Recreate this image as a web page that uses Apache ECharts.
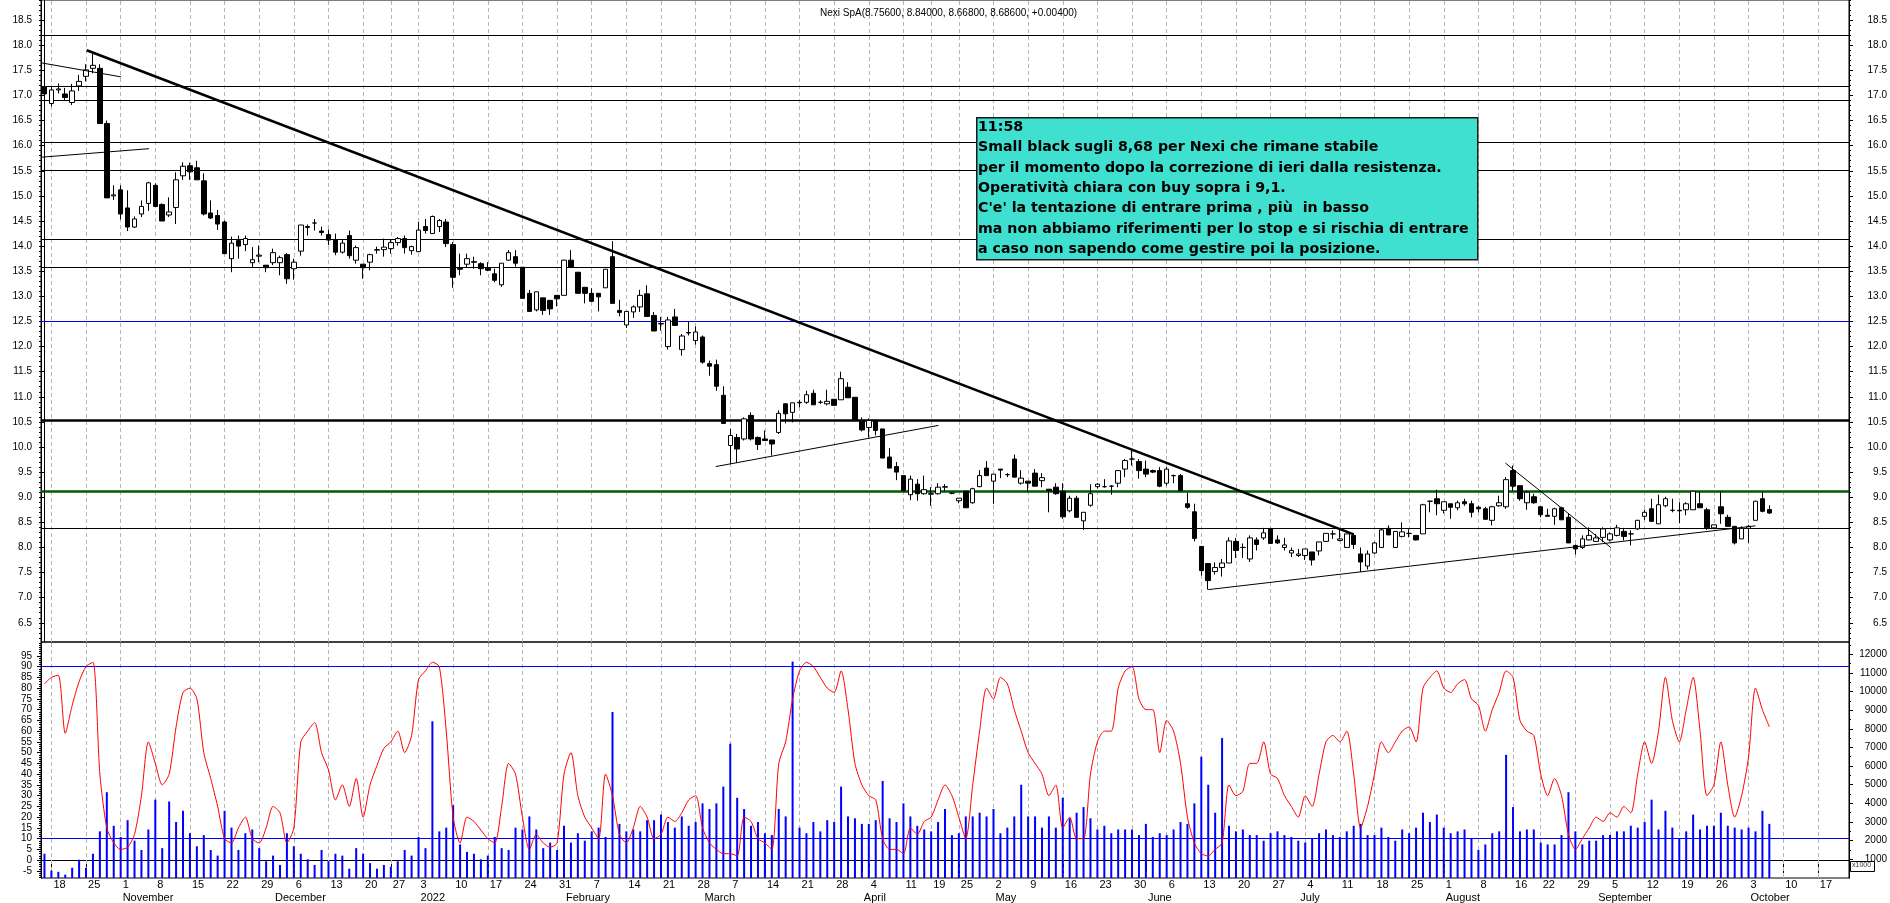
<!DOCTYPE html>
<html><head><meta charset="utf-8">
<script src="https://cdn.jsdelivr.net/npm/echarts@6/dist/echarts.min.js"></script>
<style>html,body{margin:0;padding:0;background:#fff;}#c{width:1890px;height:903px;}</style>
</head><body><div id="c"></div>
<script>
// ---------- calendar ----------
const holidays = ['2021-12-24','2021-12-31','2022-04-15','2022-04-18','2022-08-15'];
const firstDay = '2021-10-15';
const lastDay = '2022-10-21';
const monthNames = ['2022','February','March','April','May','June','July','August','September','October','November','December'];

// ---------- price data (one entry per trading day from 2021-10-15) ----------
const open = [17.17,16.84,17.11,17.03,16.86,17.19,17.38,17.54,17.54,16.44,
15.00,15.12,14.76,14.38,14.64,14.85,15.21,14.83,14.62,14.77,
15.40,15.60,15.56,15.30,14.66,14.61,14.48,13.75,14.11,14.03,
13.67,13.80,13.62,13.67,13.67,13.83,13.55,13.90,14.37,14.46,
14.30,14.23,14.12,13.88,14.21,13.72,13.64,13.68,13.92,13.93,
13.95,14.07,14.15,13.91,13.89,14.39,14.25,14.39,14.48,14.03,
13.56,13.64,13.69,13.65,13.56,13.45,13.23,13.72,13.79,13.58,
13.06,12.73,12.97,12.92,13.02,13.02,13.72,13.48,13.18,13.06,
13.06,13.17,13.79,12.72,12.43,12.69,12.79,13.05,12.62,12.46,
12.00,12.59,11.94,12.27,12.12,12.19,11.66,11.64,11.03,10.03,
10.19,10.16,10.63,10.19,10.16,10.14,10.29,10.86,10.69,10.88,
10.89,11.07,10.89,10.86,10.95,10.94,11.19,10.99,10.53,10.39,
10.53,10.36,9.80,9.61,9.43,9.05,9.26,9.07,9.06,9.07,
9.20,9.08,8.93,9.12,8.89,9.21,9.58,9.32,9.56,9.45,
9.76,9.28,9.32,9.48,9.33,9.16,9.20,9.12,8.73,8.98,
8.53,8.84,9.21,9.21,9.22,9.28,9.56,9.76,9.71,9.56,
9.53,9.53,9.28,9.43,9.43,8.87,8.71,8.02,7.68,7.52,
7.60,7.69,8.12,8.00,7.77,8.15,8.19,8.37,8.15,8.00,
7.89,7.84,7.84,7.91,7.93,8.12,8.27,8.14,8.00,8.24,
7.87,7.63,7.89,8.00,8.38,8.00,8.22,8.28,8.24,8.27,
8.92,8.97,8.74,8.87,8.79,8.91,8.87,8.80,8.77,8.54,
8.83,8.81,9.53,9.23,8.89,9.01,8.81,8.64,8.62,8.79,
8.60,8.04,8.00,8.15,8.12,8.20,8.15,8.24,8.32,8.27,
8.37,8.62,8.77,8.47,8.83,8.74,8.74,8.75,8.75,8.87,
8.75,8.39,8.81,8.60,8.42,8.17,8.38,8.54,8.97,8.756];
const high = [17.22,17.17,17.24,17.15,17.23,17.41,17.62,17.83,17.62,16.50,
15.21,15.21,15.11,14.59,14.91,15.28,15.25,14.85,14.97,15.47,
15.67,15.66,15.70,15.45,14.91,14.72,14.51,14.19,14.21,14.21,
13.98,14.01,13.62,13.95,13.81,13.86,13.75,14.42,14.43,14.54,
14.39,14.33,14.25,14.14,14.31,14.01,13.64,13.85,13.99,14.15,
14.13,14.18,14.21,14.01,14.48,14.54,14.61,14.54,14.54,14.08,
13.85,13.85,13.79,13.68,13.68,13.55,13.66,13.92,13.92,13.58,
13.13,13.09,12.97,12.92,13.02,13.73,13.92,13.48,13.18,13.16,
13.06,13.54,14.10,12.93,12.70,12.82,13.13,13.22,12.69,12.59,
12.59,12.75,12.25,12.50,12.40,12.22,11.72,11.74,11.21,10.36,
10.26,10.59,10.69,10.21,10.33,10.14,10.73,10.87,10.88,10.94,
11.12,11.14,10.93,11.14,10.95,11.50,11.29,10.99,10.59,10.57,
10.53,10.36,9.98,9.70,9.43,9.43,9.36,9.43,9.20,9.28,
9.26,9.10,8.98,9.12,9.19,9.54,9.72,9.46,9.56,9.48,
9.85,9.54,9.32,9.56,9.48,9.16,9.28,9.28,9.03,9.03,
8.70,9.26,9.28,9.36,9.24,9.54,9.76,9.96,9.76,9.73,
9.55,9.60,9.60,9.45,9.46,9.09,8.87,8.02,7.68,7.70,
7.77,8.20,8.19,8.08,8.24,8.20,8.39,8.39,8.24,8.19,
8.00,7.97,7.97,7.91,8.11,8.28,8.34,8.35,8.27,8.28,
8.00,7.94,8.11,8.37,8.44,8.32,8.50,8.36,8.24,8.87,
8.93,9.15,8.91,8.87,8.93,8.97,8.93,8.83,8.81,8.83,
9.03,9.40,9.63,9.23,9.13,9.07,8.81,8.77,8.79,8.81,
8.68,8.06,8.24,8.40,8.27,8.40,8.30,8.45,8.39,8.34,
8.55,8.75,8.97,9.05,9.01,8.97,8.90,8.90,9.12,9.12,
8.79,8.45,9.12,8.65,8.42,8.42,8.45,8.93,9.11,8.84];
const low = [16.86,16.78,17.04,16.91,16.81,17.09,17.28,17.44,16.44,14.96,
14.92,14.53,14.30,14.36,14.58,14.70,14.79,14.50,14.58,14.44,
15.32,15.32,15.32,14.61,14.54,14.32,13.85,13.48,13.75,13.90,
13.58,13.68,13.48,13.62,13.42,13.25,13.33,13.81,14.21,14.31,
14.21,14.02,13.82,13.85,13.75,13.65,13.35,13.52,13.85,13.79,
13.85,14.01,13.85,13.83,13.88,14.25,14.25,14.28,13.98,13.17,
13.42,13.58,13.55,13.42,13.50,13.28,13.19,13.71,13.59,12.96,
12.70,12.70,12.63,12.63,12.80,13.02,13.58,13.06,12.86,12.90,
12.70,13.17,12.86,12.60,12.37,12.57,12.69,12.60,12.31,12.32,
11.94,12.42,11.82,12.22,12.04,11.66,11.42,11.12,10.47,9.66,
9.68,10.13,10.13,9.94,10.13,9.83,10.26,10.47,10.49,10.79,
10.86,10.84,10.86,10.83,10.83,10.94,10.98,10.53,10.31,10.19,
10.23,9.78,9.58,9.34,9.13,8.94,8.93,9.05,8.83,9.05,
9.12,9.06,8.88,8.79,8.87,9.20,9.43,8.87,9.38,9.40,
9.40,9.25,9.10,9.22,9.20,8.70,9.05,8.57,8.70,8.60,
8.35,8.81,9.17,9.19,9.05,9.20,9.40,9.63,9.37,9.40,
9.48,9.20,9.23,9.28,9.13,8.77,8.12,7.44,7.16,7.46,
7.42,7.69,7.79,7.79,7.71,7.94,8.15,8.07,8.07,7.94,
7.81,7.81,7.75,7.64,7.84,8.12,8.17,8.12,8.00,7.97,
7.51,7.56,7.87,8.00,8.25,8.00,8.20,8.20,8.14,8.27,
8.70,8.64,8.68,8.57,8.74,8.83,8.60,8.70,8.56,8.44,
8.81,8.77,9.13,8.93,8.75,8.87,8.60,8.62,8.45,8.55,
8.09,7.86,7.97,8.14,8.11,8.11,8.12,8.22,8.14,8.04,
8.35,8.55,8.52,8.47,8.80,8.70,8.48,8.64,8.75,8.79,
8.35,8.37,8.47,8.42,8.06,8.17,8.09,8.54,8.70,8.668];
const close = [17.03,17.11,17.13,16.96,17.09,17.28,17.51,17.60,16.44,14.96,
15.02,14.64,14.38,14.54,14.79,15.26,14.79,14.50,14.68,15.32,
15.59,15.48,15.32,14.64,14.56,14.44,13.85,14.06,14.00,14.15,
13.73,13.82,13.57,13.87,13.77,13.35,13.68,14.42,14.39,14.46,
14.27,14.12,13.88,14.06,13.81,13.97,13.57,13.83,13.93,13.98,
14.07,14.15,13.97,13.99,14.32,14.31,14.59,14.51,14.05,13.38,
13.54,13.75,13.68,13.55,13.52,13.32,13.66,13.87,13.66,12.96,
12.70,13.09,12.72,12.75,12.95,13.72,13.58,13.06,13.06,12.90,
12.99,13.54,12.86,12.68,12.70,12.79,13.02,12.60,12.31,12.45,
12.53,12.42,12.21,12.28,12.29,11.69,11.61,11.21,10.47,10.23,
9.96,10.56,10.16,10.05,10.13,10.06,10.67,10.66,10.88,10.89,
11.04,10.84,10.89,10.91,10.83,11.36,10.98,10.53,10.34,10.53,
10.33,9.78,9.58,9.50,9.13,9.36,9.07,9.15,9.07,9.20,
9.21,9.08,8.98,8.79,9.17,9.43,9.43,9.46,9.54,9.45,
9.40,9.38,9.28,9.22,9.39,9.13,9.07,8.61,8.98,8.60,
8.70,9.07,9.26,9.21,9.22,9.53,9.73,9.76,9.53,9.46,
9.50,9.22,9.56,9.43,9.13,8.80,8.18,7.54,7.34,7.60,
7.69,8.13,7.94,8.00,8.19,8.06,8.29,8.08,8.09,8.05,
7.94,7.87,7.97,7.75,8.11,8.28,8.27,8.17,8.27,8.06,
7.71,7.87,8.09,8.35,8.25,8.32,8.31,8.28,8.15,8.85,
8.92,8.87,8.91,8.80,8.89,8.87,8.70,8.77,8.56,8.81,
8.89,9.35,9.22,8.97,9.10,8.89,8.65,8.62,8.77,8.55,
8.09,7.97,8.17,8.24,8.19,8.37,8.27,8.39,8.22,8.27,
8.54,8.70,8.52,8.85,8.97,8.74,8.73,8.87,9.12,8.79,
8.39,8.45,8.67,8.42,8.09,8.38,8.42,8.92,8.72,8.686];

// ---------- lower panel data ----------
const volume = [1300,400,330,180,550,980,550,1300,2500,4600,
2800,2200,3100,2000,1500,2600,4200,1600,4100,3000,
3600,2400,1700,2300,1500,1200,3600,2700,1500,2400,
2600,1600,900,1200,700,2400,1700,1300,1000,700,
1500,900,1300,1200,500,1600,1300,800,500,700,
600,900,1500,1200,2200,1600,8400,2500,2700,3900,
1800,1400,1300,1000,1200,2200,1600,1500,2700,2600,
3300,2600,1600,1900,1500,2800,1900,2400,2000,2500,
2700,2200,8900,2900,2500,2600,2500,3100,3100,3400,
3000,2700,3300,2800,3000,4000,3700,4000,4900,7200,
4300,3700,2800,3000,2400,2300,3700,3300,11600,2700,
2400,3000,2500,3100,3000,4900,3300,3200,2900,2900,
3100,5200,3200,3000,4000,3300,2800,2600,2500,3000,
3700,2300,2400,3300,3300,3500,3300,3700,2400,2700,
3300,5000,3300,3300,2700,3300,2700,4300,3200,3500,
3800,3200,2600,2800,2400,2600,2600,2600,2300,2900,
2200,2400,2300,2600,3000,2900,4000,6500,5000,3500,
7500,2800,2500,2600,2300,2300,2000,2400,2500,2300,
2200,2000,1900,2100,2400,2600,2300,2200,2500,2800,
2900,2300,2300,2700,2200,2000,2600,2400,2700,3500,
3000,3400,2700,2400,2500,2600,2100,1500,1800,2400,
2500,6600,3800,2500,2600,2600,1900,1800,1800,2300,
4600,2500,1800,2000,2000,2300,2300,2500,2500,2800,
2700,3000,4200,2600,3600,2700,2100,2500,3400,2600,
2800,2800,3500,2800,2700,2600,2700,2500,3600,2900];
const oscillator = [82,85,86,59,72,83,90,92,40,15,
8,5,6,12,30,55,45,35,40,62,
78,80,75,50,38,25,10,8,15,20,
10,8,15,25,22,8,15,55,60,64,
50,42,28,35,25,38,20,35,44,52,
55,60,50,58,84,88,92,90,60,20,
8,20,18,14,10,8,25,45,40,20,
5,12,8,6,8,40,50,30,20,15,
10,40,30,12,8,15,25,20,10,12,
20,18,22,28,30,15,8,5,3,3,
2,20,18,10,8,5,45,55,75,88,
92,90,85,80,78,88,70,45,35,30,
28,10,5,5,3,15,12,18,20,28,
35,30,20,10,35,60,80,75,85,82,
70,60,50,45,40,30,35,15,20,10,
10,40,55,60,60,80,88,90,75,70,
70,50,65,60,45,20,8,3,2,5,
8,35,30,32,45,45,55,40,38,30,
25,20,30,25,40,55,58,55,60,40,
15,25,40,55,50,55,60,62,55,80,
85,88,80,78,82,84,75,72,60,70,
78,88,85,65,60,58,40,30,38,30,
12,5,10,15,20,18,22,20,25,22,
40,55,45,60,85,65,55,70,85,60,
30,35,55,35,20,30,48,80,70,62];

// ---------- tick labels ----------
const priceTicks = [6.5,7,7.5,8,8.5,9,9.5,10,10.5,11,11.5,12,12.5,13,13.5,14,14.5,15,15.5,16,16.5,17,17.5,18,18.5];
const oscTicks = [-5,0,5,10,15,20,25,30,35,40,45,50,55,60,65,70,75,80,85,90,95];
const volTicks = [1000,2000,3000,4000,5000,6000,7000,8000,9000,10000,11000,12000];

// ---------- horizontal levels & trend lines (data space) ----------
const thinLevels = [18.2, 17.18, 16.91, 16.07, 15.51, 14.14, 13.57, 8.39];
const blueLevel = 12.5;
const thickLevel = 10.53;
const greenLevel = 9.12;
const oscLevels = [90, 10];
const mainTrend = [[6.1, 17.90], [189.0, 8.26]];
const thinTrends = [
  [[-0.5, 17.65], [11.05, 17.37]],
  [[-0.5, 15.77], [15.1, 15.94]],
  [[96.9, 9.61], [129.05, 10.43]],
  [[168, 7.16], [247, 8.43]],
  [[210.9, 9.68], [226.1, 8.0]]
];
const titleText = 'Nexi SpA(8.75600, 8.84000, 8.66800, 8.68600, +0.00400)';
const noteLines = [
  '11:58',
  'Small black sugli 8,68 per Nexi che rimane stabile',
  'per il momento dopo la correzione di ieri dalla resistenza.',
  'Operatività chiara con buy sopra i 9,1.',
  "C'e' la tentazione di entrare prima , più  in basso",
  'ma non abbiamo riferimenti per lo stop e si rischia di entrare',
  'a caso non sapendo come gestire poi la posizione.'
];

// ---------- build ----------
function buildTradingDays(a, b, hol) {
  const out = [];
  let t = Date.parse(a + 'T00:00:00Z');
  const end = Date.parse(b + 'T00:00:00Z');
  while (t <= end) {
    const d = new Date(t);
    const wd = d.getUTCDay();
    const s = d.toISOString().slice(0, 10);
    if (wd !== 0 && wd !== 6 && hol.indexOf(s) < 0) out.push(s);
    t += 86400000;
  }
  return out;
}
const dates = buildTradingDays(firstDay, lastDay, holidays);
const N = dates.length;
const dow = s => new Date(s + 'T00:00:00Z').getUTCDay();
const isWeekStart = i => i > 0 && dow(dates[i]) < dow(dates[i - 1]);
const isMonthStart = i => i > 0 && dates[i].slice(5, 7) !== dates[i - 1].slice(5, 7);
const weekStartDates = dates.filter((d, i) => isWeekStart(i));
const candleData = open.map((o, i) => [o, close[i], low[i], high[i]]);

function range(a, b, s) { const r = []; for (let v = a; v <= b + 1e-9; v += s) r.push(Math.round(v * 1000) / 1000); return r; }
const priceMinor = range(6.2, 18.9, 0.1);
const oscMinor = range(-8, 101, 1);
const volMinor = range(500, 12500, 500);

const FONT = '"Liberation Sans", Arial, sans-serif';
const L = 41, R = 41;
const priceMin = 6.1173, priceMax = 18.9006;
const oscMin = -8.3, oscMax = 101.45;
const volMin = 0, volMax = 12650;

function yAx(grid, pos, min, max, ticks, len, labels, margin) {
  return {
    type: 'value', gridIndex: grid, position: pos, min: min, max: max, scale: true,
    axisLine: { show: true, lineStyle: { color: '#000', width: 1 } },
    axisTick: { show: true, customValues: ticks, length: len, lineStyle: { color: '#000' } },
    axisLabel: labels ? {
      show: true, customValues: ticks, fontSize: 10, color: '#000', fontFamily: FONT,
      margin: margin, align: 'right', formatter: labels
    } : { show: false },
    splitLine: { show: false }
  };
}

const dashLine = { color: '#b4b4b4', width: 1, type: [4, 3] };
const vLines = weekStartDates.map(d => ({ xAxis: d }));

const option = {
  animation: false,
  backgroundColor: '#fff',
  title: { text: titleText, left: 815, top: 3, textStyle: { fontSize: 10, fontWeight: 'normal', color: '#000', fontFamily: FONT } },
  grid: [
    { left: L, right: R, top: -1, height: 643, show: true, borderColor: '#000', borderWidth: 1, backgroundColor: 'transparent' },
    { left: L, right: R, top: 642, height: 236, show: true, borderColor: '#000', borderWidth: 1, backgroundColor: 'transparent' }
  ],
  xAxis: [
    { type: 'category', gridIndex: 0, data: dates, boundaryGap: true, axisLine: { show: false }, axisTick: { show: false }, axisLabel: { show: false }, splitLine: { show: false } },
    { type: 'category', gridIndex: 1, data: dates, boundaryGap: true, position: 'bottom',
      axisLine: { show: true, lineStyle: { color: '#000' } },
      axisTick: { show: true, alignWithLabel: true, interval: (i) => isWeekStart(i), length: 13, lineStyle: { color: '#000' } },
      axisLabel: { show: true, interval: (i) => isWeekStart(i), align: 'left', padding: [0, 0, 0, 2], margin: 1, fontSize: 11, color: '#000', fontFamily: FONT,
        formatter: (v) => String(parseInt(v.slice(8), 10)) },
      splitLine: { show: false } },
    { type: 'category', gridIndex: 1, data: dates, boundaryGap: true, position: 'bottom', offset: 13,
      axisLine: { show: true, lineStyle: { color: '#000' } },
      axisTick: { show: true, alignWithLabel: true, interval: (i) => isMonthStart(i), length: 12, lineStyle: { color: '#000' } },
      axisLabel: { show: true, interval: (i) => isMonthStart(i), align: 'left', padding: [0, 0, 0, 2], margin: 1, fontSize: 11, color: '#000', fontFamily: FONT,
        formatter: (v) => monthNames[parseInt(v.slice(5, 7), 10) - 1] },
      splitLine: { show: false } },
    { type: 'value', gridIndex: 0, min: -0.5, max: N - 0.5, show: false }
  ],
  yAxis: [
    yAx(0, 'left', priceMin, priceMax, priceTicks, 4, v => Number(v).toFixed(1), 9),
    yAx(0, 'right', priceMin, priceMax, priceTicks, 4, v => Number(v).toFixed(1), 38),
    yAx(0, 'left', priceMin, priceMax, priceMinor, 2, null),
    yAx(0, 'right', priceMin, priceMax, priceMinor, 2, null),
    yAx(1, 'left', oscMin, oscMax, oscTicks, 4, v => String(Math.round(v)), 9),
    yAx(1, 'left', oscMin, oscMax, oscMinor, 2, null),
    yAx(1, 'right', volMin, volMax, volTicks, 4, v => String(Math.round(v)), 38),
    yAx(1, 'right', volMin, volMax, volMinor, 2, null)
  ],
  series: [
    { type: 'candlestick', name: 'price', xAxisIndex: 0, yAxisIndex: 0, data: candleData, barWidth: 5, z: 3,
      itemStyle: { color: '#ffffff', color0: '#000000', borderColor: '#000000', borderColor0: '#000000', borderWidth: 1 },
      markLine: { silent: true, symbol: ['none', 'none'], z: 1, label: { show: false },
        data: vLines.map(o => Object.assign({ lineStyle: dashLine }, o))
          .concat(thinLevels.map(v => ({ yAxis: v, lineStyle: { color: '#000', width: 1.2, type: 'solid' } })))
          .concat([{ yAxis: blueLevel, lineStyle: { color: '#0000ff', width: 1.2, type: 'solid' } },
                   { yAxis: thickLevel, lineStyle: { color: '#000', width: 2.6, type: 'solid' } },
                   { yAxis: greenLevel, lineStyle: { color: '#005a00', width: 2.6, type: 'solid' } }]) } },
    { type: 'line', xAxisIndex: 3, yAxisIndex: 0, data: mainTrend, symbol: 'none', silent: true, z: 4,
      lineStyle: { color: '#000', width: 2.6 } }
  ].concat(thinTrends.map(t => ({ type: 'line', xAxisIndex: 3, yAxisIndex: 0, data: t, symbol: 'none', silent: true, z: 4,
      lineStyle: { color: '#000', width: 1 } })))
   .concat([
    { type: 'bar', name: 'volume', xAxisIndex: 1, yAxisIndex: 6, data: volume, barWidth: 2, z: 2,
      itemStyle: { color: '#0000ff' },
      markLine: { silent: true, symbol: ['none', 'none'], z: 1, label: { show: false },
        data: vLines.map(o => Object.assign({ lineStyle: dashLine }, o)) } },
    { type: 'line', name: 'osc', xAxisIndex: 1, yAxisIndex: 4, data: oscillator, symbol: 'none', smooth: 0.25, z: 4,
      lineStyle: { color: '#ff0000', width: 1 },
      markLine: { silent: true, symbol: ['none', 'none'], z: 1, label: { show: false },
        data: oscLevels.map(v => ({ yAxis: v, lineStyle: { color: '#0000ff', width: 1.2, type: 'solid' } })) } }
  ]),
  graphic: [
    { type: 'rect', left: 976, top: 117, z: 100, shape: { width: 501, height: 142 },
      style: { fill: '#40E0D0', stroke: '#1a1a1a', lineWidth: 1.5 } },
    { type: 'text', left: 978, top: 117, z: 101,
      style: { text: noteLines.join('\n'), font: 'bold 14.2px "DejaVu Sans", sans-serif', fill: '#000', lineHeight: 20.4 } },
    { type: 'rect', left: 1850, top: 861, z: 100, shape: { width: 24, height: 10 },
      style: { fill: '#fff', stroke: '#000', lineWidth: 1 } },
    { type: 'text', left: 1852, top: 862, z: 101,
      style: { text: 'x1000', font: '7px ' + FONT, fill: '#334' } }
  ]
};

const chart = echarts.init(document.getElementById('c'), null, { renderer: 'canvas' });
chart.setOption(option);
</script>
</body></html>
